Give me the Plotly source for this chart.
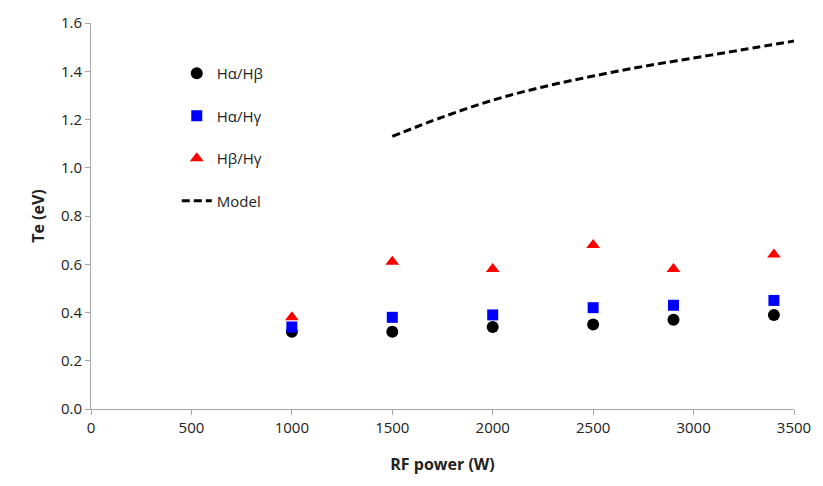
import plotly.graph_objects as go

# RF power settings (W) and electron temperatures from line ratios (eV)
power = [1000, 1500, 2000, 2500, 2900, 3400]
te_ha_hb = [0.32, 0.32, 0.34, 0.35, 0.37, 0.39]
te_ha_hg = [0.34, 0.38, 0.39, 0.42, 0.43, 0.45]
te_hb_hg = [0.38, 0.61, 0.58, 0.68, 0.58, 0.64]

# Model curve
model_power = [1500, 1750, 2000, 2250, 2500, 2750, 3000, 3250, 3500]
model_te = [1.13, 1.21, 1.28, 1.335, 1.38, 1.42, 1.455, 1.49, 1.525]

font_family = "'Open Sans', Lato, sans-serif"

fig = go.Figure()
fig.add_trace(go.Scatter(x=power, y=te_ha_hb, mode="markers", name="Hα/Hβ",
                         legendgroup="a",
                         marker=dict(symbol="circle", size=12, color="black")))
fig.add_trace(go.Scatter(x=power, y=te_ha_hg, mode="markers", name="Hα/Hγ",
                         legendgroup="b",
                         marker=dict(symbol="square", size=11, color="#0000FF")))
fig.add_trace(go.Scatter(x=power, y=te_hb_hg, mode="markers", name="Hβ/Hγ",
                         legendgroup="c",
                         marker=dict(symbol="triangle-up", size=12, color="#FF0000")))
fig.add_trace(go.Scatter(x=model_power, y=model_te, mode="lines", name="Model",
                         legendgroup="d", line_shape="spline",
                         line=dict(color="black", width=3, dash="8px,4px")))

axis_common = dict(
    showgrid=False, zeroline=False, showline=True,
    linecolor="#A6A6A6", linewidth=1,
    ticks="outside", ticklen=5, tickcolor="#A6A6A6",
    tickfont=dict(family=font_family, size=15, color="#222"),
)

fig.update_layout(
    width=823, height=486,
    margin=dict(l=91, r=20, t=17, b=77),
    plot_bgcolor="white", paper_bgcolor="white",
    font=dict(family=font_family, size=15, color="#222"),
    xaxis=dict(range=[0, 3500], tickvals=[0, 500, 1000, 1500, 2000, 2500, 3000, 3500],
               title=dict(text="<b>RF power (W)</b>", font=dict(size=16), standoff=22),
               **axis_common),
    yaxis=dict(range=[0, 1.6], tickvals=[0, 0.2, 0.4, 0.6, 0.8, 1.0, 1.2, 1.4, 1.6],
               tickformat=".1f",
               title=dict(text="<b>Te (eV)</b>", font=dict(size=16), standoff=12),
               **axis_common),
    legend=dict(x=0.122, y=0.912, xanchor="left", yanchor="top",
                bgcolor="rgba(0,0,0,0)", tracegroupgap=20,
                font=dict(family=font_family, size=15, color="#222")),
)

fig.write_html("out.html")
